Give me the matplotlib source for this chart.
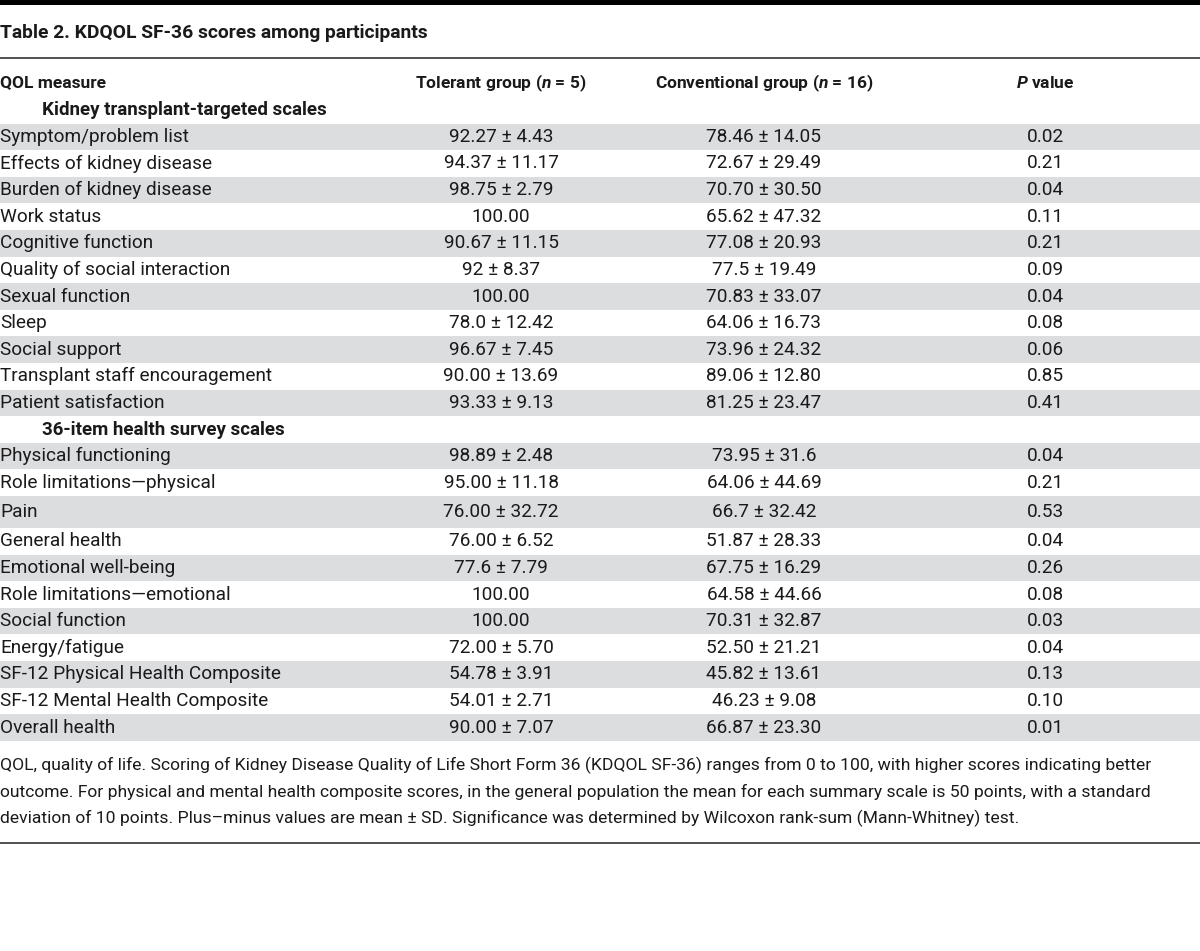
import matplotlib
matplotlib.use("Agg")
import matplotlib.pyplot as plt
from matplotlib.patches import Rectangle

plt.rcParams["mathtext.fontset"] = "custom"
plt.rcParams["mathtext.it"] = "Roboto:italic:bold"
plt.rcParams["mathtext.rm"] = "Roboto:bold"

title = "Table 2. KDQOL SF-36 scores among participants"
col_headers = ["QOL measure", "Tolerant group ($\\it{n}$ = 5)",
               "Conventional group ($\\it{n}$ = 16)", "$\\it{P}$ value"]

sections = ["Kidney transplant-targeted scales", "36-item health survey scales"]

measures_1 = ["Symptom/problem list", "Effects of kidney disease", "Burden of kidney disease",
              "Work status", "Cognitive function", "Quality of social interaction",
              "Sexual function", "Sleep", "Social support",
              "Transplant staff encouragement", "Patient satisfaction"]
tolerant_1 = ["92.27 ± 4.43", "94.37 ± 11.17", "98.75 ± 2.79", "100.00", "90.67 ± 11.15",
              "92 ± 8.37", "100.00", "78.0 ± 12.42", "96.67 ± 7.45", "90.00 ± 13.69",
              "93.33 ± 9.13"]
conventional_1 = ["78.46 ± 14.05", "72.67 ± 29.49", "70.70 ± 30.50", "65.62 ± 47.32",
                  "77.08 ± 20.93", "77.5 ± 19.49", "70.83 ± 33.07", "64.06 ± 16.73",
                  "73.96 ± 24.32", "89.06 ± 12.80", "81.25 ± 23.47"]
pvals_1 = ["0.02", "0.21", "0.04", "0.11", "0.21", "0.09", "0.04", "0.08", "0.06", "0.85", "0.41"]

measures_2 = ["Physical functioning", "Role limitations\u2014physical", "Pain", "General health",
              "Emotional well-being", "Role limitations\u2014emotional", "Social function",
              "Energy/fatigue", "SF-12 Physical Health Composite",
              "SF-12 Mental Health Composite", "Overall health"]
tolerant_2 = ["98.89 ± 2.48", "95.00 ± 11.18", "76.00 ± 32.72", "76.00 ± 6.52", "77.6 ± 7.79",
              "100.00", "100.00", "72.00 ± 5.70", "54.78 ± 3.91", "54.01 ± 2.71", "90.00 ± 7.07"]
conventional_2 = ["73.95 ± 31.6", "64.06 ± 44.69", "66.7 ± 32.42", "51.87 ± 28.33",
                  "67.75 ± 16.29", "64.58 ± 44.66", "70.31 ± 32.87", "52.50 ± 21.21",
                  "45.82 ± 13.61", "46.23 ± 9.08", "66.87 ± 23.30"]
pvals_2 = ["0.04", "0.21", "0.53", "0.04", "0.26", "0.08", "0.03", "0.04", "0.13", "0.10", "0.01"]

footnote = ["QOL, quality of life. Scoring of Kidney Disease Quality of Life Short Form 36 (KDQOL SF-36) ranges from 0 to 100, with higher scores indicating better",
            "outcome. For physical and mental health composite scores, in the general population the mean for each summary scale is 50 points, with a standard",
            "deviation of 10 points. Plus\u2013minus values are mean ± SD. Significance was determined by Wilcoxon rank-sum (Mann-Whitney) test."]

W, H = 1200, 951
fig = plt.figure(figsize=(W / 100, H / 100), dpi=100)
ax = fig.add_axes([0, 0, 1, 1])
ax.set_xlim(0, W)
ax.set_ylim(H, 0)
ax.axis("off")

ink = "#1a1a1a"
gray = "#dcdddf"
font = "Roboto"
col_x = [0, 501, 764, 1045]
fs = 13.7
fs_head = 12.5

# top rule and title
ax.add_patch(Rectangle((0, 0), W, 5, color="black", lw=0))
ax.text(0, 33, title, fontsize=13.9, fontweight="bold", family=font, color=ink, va="center")
ax.plot([0, W], [57.5, 57.5], color="#333333", lw=1.2)

# header row
ax.text(col_x[0], 83, col_headers[0], fontsize=fs_head, fontweight="bold", family=font, color=ink, va="center")
for i in range(1, 4):
    ax.text(col_x[i], 83, col_headers[i], fontsize=fs_head, fontweight="bold", family=font,
            color=ink, va="center", ha="center")

row_h = 26.6
y = 97.0
blocks = [(sections[0], measures_1, tolerant_1, conventional_1, pvals_1),
          (sections[1], measures_2, tolerant_2, conventional_2, pvals_2)]
for sec, meas, tol, conv, pv in blocks:
    ax.text(42, y + row_h / 2, sec, fontsize=13.5, fontweight="bold", family=font, color=ink, va="center")
    y += row_h
    for k, m in enumerate(meas):
        h = 32 if m == "Pain" else row_h
        if k % 2 == 0:
            ax.add_patch(Rectangle((0, y), W, h, color=gray, lw=0))
        yc = y + h / 2
        ax.text(col_x[0], yc, m, fontsize=fs, family=font, color=ink, va="center")
        ax.text(col_x[1], yc, tol[k], fontsize=fs, family=font, color=ink, va="center", ha="center")
        ax.text(col_x[2], yc, conv[k], fontsize=fs, family=font, color=ink, va="center", ha="center")
        ax.text(col_x[3], yc, pv[k], fontsize=fs, family=font, color=ink, va="center", ha="center")
        y += h

for j, line in enumerate(footnote):
    ax.text(0, 765 + j * 26.5, line, fontsize=12.58, family=font, color=ink, va="center")
ax.plot([0, W], [842.5, 842.5], color="#333333", lw=1.2)

fig.savefig("out.png", dpi=100)
